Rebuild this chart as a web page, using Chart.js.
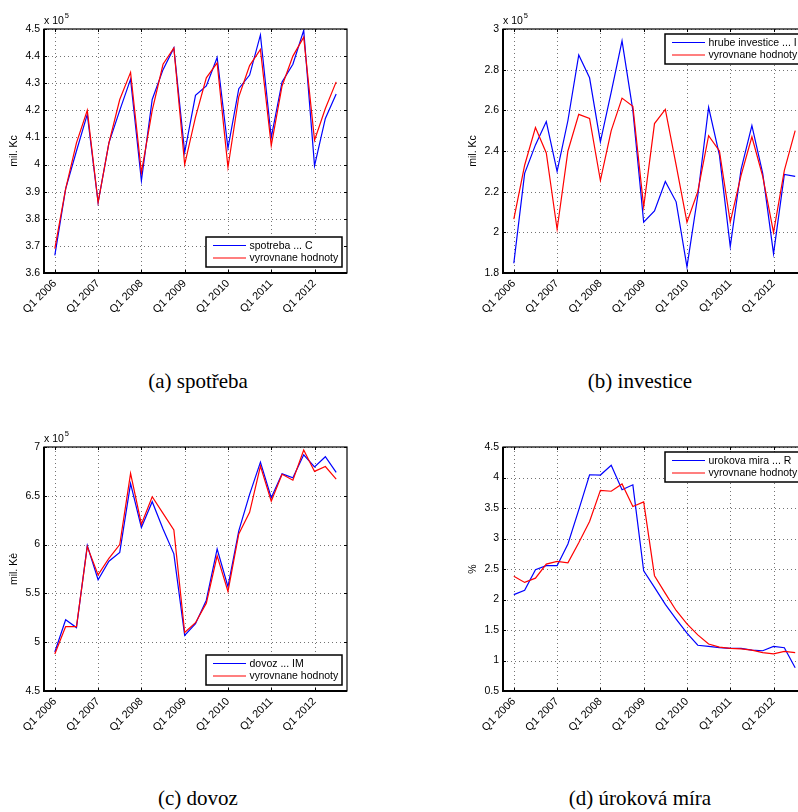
<!DOCTYPE html>
<html><head><meta charset="utf-8">
<script src="https://cdn.jsdelivr.net/npm/chart.js@4"></script>
<style>
html,body{margin:0;padding:0;background:#fff;width:798px;height:812px;overflow:hidden;position:relative;}
canvas{position:absolute;}
.cap{position:absolute;font-family:"Liberation Serif","Times New Roman",serif;font-size:21px;color:#000;white-space:nowrap;transform:translate(-50%,-50%);}
</style></head><body>
<canvas id="ca" width="400" height="360" style="left:0px;top:0px"></canvas>
<canvas id="cb" width="400" height="360" style="left:459px;top:0px"></canvas>
<canvas id="cc" width="400" height="360" style="left:0px;top:418px"></canvas>
<canvas id="cd" width="400" height="360" style="left:459px;top:418px"></canvas>
<div class="cap" style="left:198px;top:381px">(a) spotřeba</div>
<div class="cap" style="left:640px;top:381px">(b) investice</div>
<div class="cap" style="left:198px;top:798px">(c) dovoz</div>
<div class="cap" style="left:640px;top:798px">(d) úroková míra</div>
<script>
const quarters = ["Q1 2006","Q2 2006","Q3 2006","Q4 2006","Q1 2007","Q2 2007","Q3 2007","Q4 2007",
  "Q1 2008","Q2 2008","Q3 2008","Q4 2008","Q1 2009","Q2 2009","Q3 2009","Q4 2009",
  "Q1 2010","Q2 2010","Q3 2010","Q4 2010","Q1 2011","Q2 2011","Q3 2011","Q4 2011",
  "Q1 2012","Q2 2012","Q3 2012"];
const yearTicks = ["Q1 2006","Q1 2007","Q1 2008","Q1 2009","Q1 2010","Q1 2011","Q1 2012"];

// (a) spotreba, x 10^5 mil. Kc
const spotreba    = [3.665,3.91,4.05,4.185,3.86,4.08,4.20,4.315,3.94,4.24,4.35,4.43,4.045,4.255,4.29,4.395,4.06,4.28,4.33,4.478,4.10,4.305,4.37,4.495,3.995,4.17,4.26];
const spotrebaFit = [3.69,3.91,4.08,4.20,3.86,4.08,4.24,4.34,3.97,4.20,4.37,4.43,4.0,4.175,4.32,4.375,3.99,4.25,4.365,4.425,4.07,4.29,4.40,4.47,4.09,4.207,4.305];
// (b) investice
const investice    = [1.848,2.29,2.43,2.545,2.30,2.55,2.872,2.76,2.445,2.69,2.942,2.60,2.05,2.105,2.25,2.15,1.83,2.18,2.615,2.38,1.93,2.31,2.525,2.29,1.895,2.285,2.275];
const investiceFit = [2.065,2.33,2.515,2.39,2.015,2.40,2.58,2.56,2.255,2.50,2.66,2.62,2.125,2.535,2.605,2.33,2.05,2.20,2.475,2.40,2.05,2.28,2.47,2.275,2.0,2.305,2.50];
// (c) dovoz
const dovoz    = [4.90,5.23,5.15,5.99,5.64,5.83,5.92,6.625,6.175,6.44,6.16,5.905,5.07,5.19,5.43,5.955,5.57,6.14,6.515,6.845,6.48,6.725,6.685,6.92,6.795,6.90,6.74];
const dovozFit = [4.88,5.16,5.16,5.98,5.69,5.86,6.0,6.73,6.21,6.49,6.32,6.15,5.10,5.20,5.40,5.885,5.52,6.11,6.33,6.805,6.445,6.72,6.66,6.97,6.75,6.80,6.67];
// (d) urokova mira, %
const urok    = [2.08,2.15,2.49,2.555,2.555,2.91,3.47,4.045,4.04,4.20,3.80,3.88,2.47,2.2,1.92,1.68,1.45,1.25,1.23,1.21,1.20,1.20,1.17,1.16,1.23,1.21,0.88];
const urokFit = [2.38,2.28,2.35,2.58,2.625,2.60,2.93,3.28,3.79,3.775,3.895,3.525,3.60,2.39,2.1,1.82,1.6,1.42,1.27,1.22,1.2,1.19,1.17,1.13,1.11,1.15,1.13];

const yTicksA = [3.6,3.7,3.8,3.9,4,4.1,4.2,4.3,4.4,4.5];
const yTicksB = [1.8,2,2.2,2.4,2.6,2.8,3];
const yTicksC = [4.5,5,5.5,6,6.5,7];
const yTicksD = [0.5,1,1.5,2,2.5,3,3.5,4,4.5];

const namesA = ["spotreba ... C","vyrovnane hodnoty"];
const namesB = ["hrube investice ... I","vyrovnane hodnoty"];
const namesC = ["dovoz ... IM","vyrovnane hodnoty"];
const namesD = ["urokova mira ... R","vyrovnane hodnoty"];

const FONT = "'Liberation Sans', Arial, Helvetica, sans-serif";
Chart.defaults.font.family = FONT;
Chart.defaults.font.size = 10.5;
Chart.defaults.color = '#000';

const matlabPlugin = {
  id: 'matlab',
  beforeDatasetsDraw(chart) {
    const {ctx, chartArea: a, scales: {x, y}} = chart;
    ctx.save();
    ctx.strokeStyle = 'rgba(0,0,0,0.55)';
    ctx.lineWidth = 1;
    ctx.setLineDash([1, 3]);
    ctx.beginPath();
    x.ticks.forEach(t => {
      const px = Math.round(x.getPixelForValue(t.value)) + 0.5;
      ctx.moveTo(px, a.top); ctx.lineTo(px, a.bottom);
    });
    y.ticks.forEach(t => {
      const py = Math.round(y.getPixelForValue(t.value)) + 0.5;
      ctx.moveTo(a.left, py); ctx.lineTo(a.right, py);
    });
    ctx.stroke();
    ctx.restore();
  },
  afterDatasetsDraw(chart, args, opts) {
    const {ctx, chartArea: a, scales: {x, y}} = chart;
    ctx.save();
    ctx.setLineDash([]);
    ctx.strokeStyle = '#000';
    ctx.lineWidth = 1.2;
    ctx.strokeRect(a.left, a.top, a.right - a.left, a.bottom - a.top);
    ctx.lineWidth = 2;
    ctx.beginPath();
    ctx.moveTo(a.left, a.top); ctx.lineTo(a.left, a.bottom); ctx.lineTo(a.right, a.bottom);
    ctx.stroke();
    ctx.lineWidth = 1;
    ctx.beginPath();
    x.ticks.forEach(t => {
      const px = Math.round(x.getPixelForValue(t.value)) + 0.5;
      ctx.moveTo(px, a.bottom); ctx.lineTo(px, a.bottom - 3);
      ctx.moveTo(px, a.top); ctx.lineTo(px, a.top + 3);
    });
    y.ticks.forEach(t => {
      const py = Math.round(y.getPixelForValue(t.value)) + 0.5;
      ctx.moveTo(a.left, py); ctx.lineTo(a.left + 3, py);
      ctx.moveTo(a.right, py); ctx.lineTo(a.right - 3, py);
    });
    ctx.stroke();
    // legend
    const ds = chart.data.datasets;
    const w = 136, h = 30;
    const L = Math.round(a.right - 4.7 - w);
    const T = Math.round(opts.legendPos === 'tr' ? a.top + 4.5 : a.bottom - 5.7 - h);
    ctx.fillStyle = '#fff';
    ctx.fillRect(L, T, w, h);
    ctx.lineWidth = 1.5;
    ctx.strokeStyle = '#000';
    ctx.strokeRect(L, T, w, h);
    ctx.font = '10.5px ' + FONT;
    ctx.textBaseline = 'middle';
    ctx.textAlign = 'left';
    ds.forEach((d, i) => {
      const ly = T + 8.5 + i * 12.5;
      ctx.strokeStyle = d.borderColor;
      ctx.lineWidth = 1.2;
      ctx.beginPath(); ctx.moveTo(L + 7, ly); ctx.lineTo(L + 40, ly); ctx.stroke();
      ctx.fillStyle = '#000';
      ctx.fillText(d.label, L + 43.5, ly + 0.5);
    });
    if (opts.exp) {
      ctx.fillStyle = '#000';
      ctx.textBaseline = 'alphabetic';
      ctx.font = '10.5px ' + FONT;
      ctx.fillText('x 10', a.left, a.top - 5);
      const tw = ctx.measureText('x 10').width;
      ctx.font = '7.5px ' + FONT;
      ctx.fillText(opts.exp, a.left + tw + 1, a.top - 11.5);
    }
    ctx.save();
    ctx.translate(a.left - 30, (a.top + a.bottom) / 2);
    ctx.rotate(-Math.PI / 2);
    ctx.font = '10.5px ' + FONT;
    ctx.textAlign = 'center';
    ctx.textBaseline = 'middle';
    ctx.fillStyle = '#000';
    ctx.fillText(opts.yTitle, 0, 0);
    ctx.restore();
    ctx.restore();
  }
};

function makeChart(id, actual, fitted, yTicks, names, yTitle, legendPos, exp) {
  const pts = arr => arr.map((v, i) => ({x: i + 1, y: v}));
  return new Chart(document.getElementById(id), {
    type: 'line',
    data: {datasets: [
      {label: names[0], data: pts(actual), borderColor: '#0000ff', borderWidth: 1.2, pointRadius: 0, tension: 0, fill: false, order: 1},
      {label: names[1], data: pts(fitted), borderColor: '#ff0000', borderWidth: 1.2, pointRadius: 0, tension: 0, fill: false, order: 0}
    ]},
    options: {
      responsive: false, animation: false, devicePixelRatio: 1,
      layout: {padding: {left: 0, top: 29, right: 53, bottom: 27}},
      plugins: {legend: {display: false}, tooltip: {enabled: false}, matlab: {yTitle, legendPos, exp}},
      scales: {
        x: {type: 'linear', min: 0, max: quarters.length + 1,
          grid: {display: false, drawTicks: false}, border: {display: false},
          afterBuildTicks: s => { s.ticks = yearTicks.map(l => ({value: quarters.indexOf(l) + 1})); },
          afterFit: s => { s.height = 60; },
          ticks: {autoSkip: false, minRotation: 45, maxRotation: 45, padding: 4, color: '#000',
            font: {size: 11}, callback: v => quarters[v - 1]}
        },
        y: {type: 'linear', min: yTicks[0], max: yTicks[yTicks.length - 1],
          grid: {display: false, drawTicks: false}, border: {display: false},
          afterBuildTicks: s => { s.ticks = yTicks.map(v => ({value: v})); },
          afterFit: s => { s.width = 44; },
          ticks: {padding: 4, color: '#000', callback: v => String(v)}
        }
      }
    },
    plugins: [matlabPlugin]
  });
}

makeChart('ca', spotreba, spotrebaFit, yTicksA, namesA, 'mil. Kc', 'br', '5');
makeChart('cb', investice, investiceFit, yTicksB, namesB, 'mil. Kc', 'tr', '5');
makeChart('cc', dovoz, dovozFit, yTicksC, namesC, 'mil. Kè', 'br', '5');
makeChart('cd', urok, urokFit, yTicksD, namesD, '%', 'tr', null);
</script>
</body></html>
